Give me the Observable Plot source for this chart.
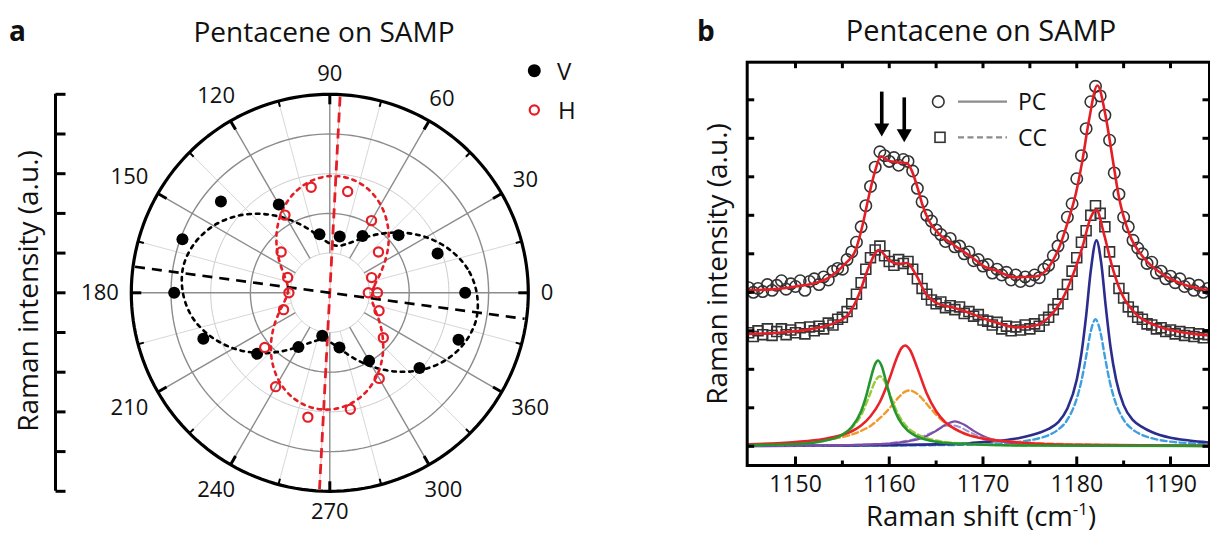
<!DOCTYPE html>
<html>
<head>
<meta charset="utf-8">
<script src="https://cdn.jsdelivr.net/npm/d3@7"></script>
<script src="https://cdn.jsdelivr.net/npm/@observablehq/plot@0.6"></script>
<style>
  html, body { margin: 0; padding: 0; background: #fff; }
  #fig { position: relative; width: 1210px; height: 534px; overflow: hidden; background: #fff; font-family: "Open Sans", sans-serif; }
  #fig > svg { position: absolute; top: 0; }
</style>
</head>
<body>
<div id="fig"></div>
<script>
// ================= DATA : panel a (polar) =================
const polarAngles = [0, 20, 40, 60, 80, 100, 120, 140, 160, 180, 200, 220, 240, 260, 280, 300, 320, 340];
const vIntensity  = [3.41, 2.89, 2.26, 1.65, 1.44, 1.50, 2.57, 3.58, 3.95, 3.92, 3.39, 2.39, 1.58, 1.10, 1.40, 1.98, 2.95, 3.45];
const hAngles     = [0, 20, 40, 60, 80, 100, 120, 140, 160, 180, 200, 220, 240, 260, 280, 300, 320, 340, 360];
const hIntensity  = [0.97, 1.12, 1.60, 2.10, 2.59, 2.70, 2.26, 1.60, 1.13, 1.03, 1.24, 2.14, 2.73, 3.18, 2.98, 2.49, 1.76, 1.32, 1.20];
const fitAngles   = [0, 10, 20, 30, 40, 50, 60, 70, 80, 90, 100, 110, 120, 130, 140, 150, 160, 170,
                     180, 190, 200, 210, 220, 230, 240, 250, 260, 270, 280, 290, 300, 310, 320, 330, 340, 350];
const vFit = [3.70, 3.52, 3.20, 2.80, 2.36, 1.93, 1.57, 1.32, 1.20, 1.24, 1.43, 1.75, 2.15, 2.59, 3.02, 3.38, 3.63, 3.75,
              3.70, 3.52, 3.20, 2.80, 2.36, 1.93, 1.57, 1.32, 1.20, 1.24, 1.43, 1.75, 2.15, 2.59, 3.02, 3.38, 3.63, 3.75];
const hFit = [1.06, 1.15, 1.34, 1.61, 1.93, 2.26, 2.56, 2.79, 2.92, 2.94, 2.85, 2.66, 2.39, 2.07, 1.74, 1.44, 1.21, 1.08,
              1.06, 1.15, 1.34, 1.61, 1.93, 2.26, 2.56, 2.79, 2.92, 2.94, 2.85, 2.66, 2.39, 2.07, 1.74, 1.44, 1.21, 1.08];
const vAxisAngle = 172.4;
const hAxisAngle = 87;
const axisLineLength = 4.95;
const angleTicks = [0, 30, 60, 90, 120, 150, 180, 210, 240, 270, 300, 330];
const angleTickLabels = ["0", "30", "60", "90", "120", "150", "180", "210", "240", "270", "300", "360"];
const ringRadii = [1, 2, 3, 4, 5];
const radialTicks = [-5, -4, -3, -2, -1, 0, 1, 2, 3, 4, 5];

// ================= DATA : panel b (spectra) =================
const specShift = [1145,1145.5,1146,1146.5,1147,1147.5,1148,1148.5,1149,1149.5,
  1150,1150.5,1151,1151.5,1152,1152.5,1153,1153.5,1154,1154.5,
  1155,1155.5,1156,1156.5,1157,1157.5,1158,1158.5,1159,1159.5,
  1160,1160.5,1161,1161.5,1162,1162.5,1163,1163.5,1164,1164.5,
  1165,1165.5,1166,1166.5,1167,1167.5,1168,1168.5,1169,1169.5,
  1170,1170.5,1171,1171.5,1172,1172.5,1173,1173.5,1174,1174.5,
  1175,1175.5,1176,1176.5,1177,1177.5,1178,1178.5,1179,1179.5,
  1180,1180.5,1181,1181.5,1182,1182.5,1183,1183.5,1184,1184.5,
  1185,1185.5,1186,1186.5,1187,1187.5,1188,1188.5,1189,1189.5,
  1190,1190.5,1191,1191.5,1192,1192.5,1193,1193.5,1194];
const pcIntensity = [4.12,4.00,4.10,4.02,4.20,4.05,4.18,4.30,4.08,4.22,
  4.15,4.30,4.05,4.28,4.35,4.20,4.40,4.32,4.55,4.62,
  4.60,4.85,5.05,5.30,5.70,6.25,6.75,7.25,7.65,7.55,
  7.40,7.50,7.30,7.45,7.40,7.15,6.70,6.35,6.00,5.85,
  5.62,5.50,5.32,5.40,5.18,5.20,5.00,5.05,4.82,4.85,
  4.68,4.72,4.50,4.60,4.45,4.52,4.32,4.45,4.28,4.40,
  4.30,4.45,4.38,4.60,4.70,4.95,5.20,5.45,5.95,6.30,
  6.95,7.55,8.25,8.95,9.35,9.10,8.60,7.95,7.10,6.55,
  5.95,5.70,5.35,5.15,5.00,4.75,4.78,4.50,4.55,4.35,
  4.42,4.25,4.35,4.15,4.22,4.05,4.18,4.00,4.10];
const ccIntensity = [2.95,2.85,3.00,2.90,3.05,2.88,2.98,3.05,2.90,3.02,
  2.95,3.08,2.92,3.10,3.00,3.12,3.05,3.20,3.15,3.30,
  3.35,3.50,3.70,3.95,4.25,4.60,4.90,5.10,5.20,4.95,
  4.80,4.70,4.85,4.75,4.80,4.60,4.35,4.10,3.95,3.80,
  3.70,3.75,3.60,3.65,3.55,3.62,3.45,3.50,3.38,3.42,
  3.28,3.25,3.15,3.22,3.05,3.12,3.00,3.10,3.02,3.15,
  3.05,3.18,3.12,3.28,3.35,3.55,3.70,3.95,4.20,4.55,
  4.90,5.30,5.60,6.00,6.25,6.05,5.70,5.05,4.55,4.10,
  3.85,3.62,3.50,3.35,3.30,3.18,3.15,3.05,3.08,2.98,
  3.02,2.92,2.98,2.88,2.95,2.85,2.92,2.82,2.90];
const pcFit = [[1144.85,4.05],[1148.2,4.09],[1150,4.15],[1151.8,4.22],[1153.6,4.39],[1155.3,4.74],[1156.4,5.09],
  [1157.1,5.69],[1157.8,6.47],[1158.5,7.16],[1159.1,7.53],[1160,7.41],[1161,7.38],[1161.9,7.35],[1162.4,7.16],
  [1163,6.73],[1163.5,6.30],[1164.2,5.87],[1165.3,5.52],[1166.7,5.26],[1168.8,4.91],[1170.3,4.65],[1171.3,4.57],
  [1173.5,4.39],[1175.6,4.41],[1177,4.65],[1178,5.09],[1179.1,5.87],[1179.9,6.56],[1180.6,7.42],[1181.3,8.46],
  [1182.2,9.37],[1183.1,8.55],[1183.8,7.51],[1184.5,6.47],[1185.6,5.52],[1187.1,4.91],[1189.1,4.48],[1191.2,4.22],[1194.16,4.05]];
const ccFit = [[1144.85,2.92],[1148.2,2.95],[1151.8,3.05],[1154.3,3.22],[1155.7,3.44],[1156.8,3.96],[1157.8,4.65],
  [1158.9,5.10],[1160,4.83],[1161,4.74],[1161.9,4.76],[1162.8,4.48],[1163.9,3.96],[1164.9,3.74],[1166.7,3.61],
  [1168.8,3.44],[1170.3,3.30],[1171.3,3.22],[1173.5,3.09],[1175.6,3.14],[1177,3.35],[1178.4,3.79],[1179.5,4.39],
  [1180.6,5.17],[1181.5,5.95],[1182.1,6.14],[1182.9,5.52],[1183.8,4.65],[1184.8,3.96],[1186.3,3.44],[1188.4,3.14],
  [1191.2,2.96],[1194.16,2.88]];
const greenSolid = [[1145,0.03],[1150,0.06],[1153,0.14],[1155,0.30],[1156,0.50],[1157,0.91],[1157.5,1.27],[1158,1.74],
  [1158.5,2.14],[1158.8,2.23],[1159.2,2.08],[1159.7,1.64],[1160.3,1.12],[1161,0.71],[1162,0.40],[1163,0.25],
  [1165,0.12],[1168,0.06],[1175,0.02],[1194.1,0.01]];
const greenDashed = [[1145,0.03],[1150,0.07],[1153,0.15],[1155,0.31],[1156,0.48],[1157,0.81],[1158,1.39],[1158.5,1.69],
  [1159,1.82],[1159.5,1.69],[1160,1.39],[1161,0.81],[1162,0.48],[1163,0.31],[1165,0.15],[1168,0.07],[1175,0.02],[1194.1,0.01]];
const redSolid = [[1145,0.05],[1150,0.11],[1153,0.19],[1155,0.30],[1156,0.39],[1157,0.54],[1158,0.78],[1159,1.15],
  [1160,1.74],[1160.7,2.23],[1161.3,2.55],[1161.7,2.62],[1162.2,2.51],[1163,2.03],[1164,1.37],[1165,0.91],[1166,0.62],
  [1167,0.45],[1168,0.33],[1170,0.20],[1172,0.14],[1175,0.08],[1180,0.04],[1194.1,0.01]];
const orangeDashed = [[1145,0.05],[1150,0.09],[1153,0.16],[1155,0.24],[1157,0.40],[1158,0.53],[1159,0.73],[1160,0.98],
  [1161,1.27],[1161.7,1.42],[1162.2,1.45],[1163,1.36],[1164,1.10],[1165,0.82],[1166,0.60],[1167,0.45],[1168,0.34],
  [1170,0.21],[1172,0.14],[1175,0.09],[1180,0.05],[1194.1,0.01]];
const purpleSolid = [[1145,0.01],[1155,0.03],[1158,0.05],[1160,0.07],[1162,0.13],[1163,0.18],[1164,0.27],[1165,0.40],
  [1166,0.56],[1167,0.65],[1168,0.56],[1169,0.40],[1170,0.27],[1171,0.18],[1172,0.13],[1174,0.07],[1176,0.05],[1180,0.02],[1194.1,0.01]];
const lavenderDashed = [[1145,0.01],[1155,0.03],[1158,0.05],[1160,0.08],[1162,0.15],[1163,0.21],[1164,0.30],[1165,0.41],
  [1166,0.53],[1166.6,0.55],[1167.5,0.50],[1168.5,0.38],[1170,0.22],[1172,0.12],[1174,0.07],[1176,0.05],[1180,0.02],[1194.1,0.01]];
const navySolid = [[1145,0.01],[1155,0.02],[1160,0.03],[1165,0.05],[1168,0.07],[1170,0.11],[1172,0.15],[1174,0.22],
  [1176,0.35],[1177,0.45],[1178,0.62],[1179,0.98],[1180,1.73],[1180.5,2.41],[1181,3.39],[1181.5,4.57],[1182.1,5.35],
  [1182.6,4.78],[1183.1,3.62],[1183.6,2.58],[1184.2,1.73],[1185,1.07],[1186,0.68],[1187,0.50],[1188,0.37],[1190,0.22],
  [1192,0.15],[1194.1,0.10]];
const lightBlueDashed = [[1145,0.01],[1160,0.02],[1165,0.03],[1170,0.05],[1172,0.08],[1174,0.12],[1176,0.21],[1177,0.29],
  [1178,0.43],[1179,0.69],[1180,1.24],[1180.5,1.70],[1181,2.33],[1181.5,2.99],[1182,3.30],[1182.5,2.99],[1183,2.33],
  [1183.5,1.70],[1184,1.24],[1185,0.69],[1186,0.43],[1187,0.29],[1188,0.21],[1190,0.12],[1192,0.08],[1194.1,0.05]];
const arrowShift = [1159.2, 1161.6];
const arrowTop = [9.2, 9.05];
const arrowTip = [8.05, 7.9];
const xMajorTicks = [1150, 1160, 1170, 1180, 1190];
const xMinorTicks = [1155, 1165, 1175, 1185];
const xTopTicks = [1150, 1155, 1160, 1165, 1170, 1175, 1180, 1185, 1190];
const yTicks = [0, 1, 2, 3, 4, 5, 6, 7, 8, 9];

// ================= LAYOUT / STYLE =================
const RED = "#e41e26";
const FONT = "Open Sans, sans-serif";
const fig = document.getElementById("fig");

// ---------- panel a ----------
const U = 39.7, CX = 329.3, CY = 292.3, RMAX = 5;
const A_W = 620, A_H = 534;
const rad = d => d * Math.PI / 180;
const pol = (a, r) => ({x: r * Math.cos(rad(a)), y: r * Math.sin(rad(a))});

const vPts = polarAngles.map((a, i) => pol(a, vIntensity[i]));
const hPts = hAngles.map((a, i) => pol(a, hIntensity[i]));
const vFitPts = fitAngles.map((a, i) => pol(a, vFit[i]));
const hFitPts = fitAngles.map((a, i) => pol(a, hFit[i]));
const ringPts = ringRadii.flatMap(r => d3.range(0, 361, 2).map(a => ({ring: r, ...pol(a, r)})));
const spokeAngles = d3.range(0, 360, 15);
const AX = (55 - CX) / U; // left radial axis position (data units)

const labelFs = 22;
const labelPts = angleTicks.map((a, i) => {
  const w = angleTickLabels[i].length * 0.57 * labelFs;
  const rc = (211 + (w / 2) * Math.abs(Math.cos(rad(a))) + 8 * Math.abs(Math.sin(rad(a)))) / U;
  return {label: angleTickLabels[i], ...pol(a, rc)};
});

const plotA = Plot.plot({
  width: A_W, height: A_H,
  marginLeft: CX - RMAX * U, marginRight: A_W - (CX + RMAX * U),
  marginTop: CY - RMAX * U, marginBottom: A_H - (CY + RMAX * U),
  x: {domain: [-RMAX, RMAX], axis: null},
  y: {domain: [-RMAX, RMAX], axis: null},
  style: {fontFamily: FONT, background: "transparent", overflow: "visible"},
  marks: [
    Plot.line(ringPts.filter(d => d.ring % 2 === 1 && d.ring < 5), {x: "x", y: "y", z: "ring", stroke: "#cdcdcd", strokeWidth: 1}),
    Plot.link(spokeAngles.filter(a => a % 30 !== 0), {
      x1: a => pol(a, 1).x, y1: a => pol(a, 1).y, x2: a => pol(a, 5).x, y2: a => pol(a, 5).y,
      stroke: "#d2d2d2", strokeWidth: 0.9}),
    Plot.line(ringPts.filter(d => d.ring % 2 === 0), {x: "x", y: "y", z: "ring", stroke: "#8c8c8c", strokeWidth: 1.4}),
    Plot.link(spokeAngles.filter(a => a % 30 === 0), {
      x1: a => pol(a, 1).x, y1: a => pol(a, 1).y, x2: a => pol(a, 5).x, y2: a => pol(a, 5).y,
      stroke: "#8c8c8c", strokeWidth: 1.4}),
    Plot.line(ringPts.filter(d => d.ring === 5), {x: "x", y: "y", stroke: "black", strokeWidth: 3.2}),
    Plot.link(spokeAngles, {
      x1: a => pol(a, 5).x, y1: a => pol(a, 5).y,
      x2: a => pol(a, 5 - (a % 30 === 0 ? 10 : 6) / U).x, y2: a => pol(a, 5 - (a % 30 === 0 ? 10 : 6) / U).y,
      stroke: "black", strokeWidth: a => a % 30 === 0 ? 3 : 2}),
    // left radial axis
    Plot.ruleX([AX], {x: d => d, y1: () => -5, y2: () => 5, stroke: "black", strokeWidth: 3}),
    Plot.link(radialTicks, {x1: () => AX, x2: () => AX + 10 / U, y1: d => d, y2: d => d, stroke: "black", strokeWidth: 3}),
    // fits
    Plot.line(vFitPts, {x: "x", y: "y", curve: "catmull-rom-closed", stroke: "black", strokeWidth: 2.6, strokeDasharray: "3.5,5"}),
    Plot.line(hFitPts, {x: "x", y: "y", curve: "catmull-rom-closed", stroke: RED, strokeWidth: 2.6, strokeDasharray: "3.5,5"}),
    // principal axes
    Plot.link([hAxisAngle], {x1: a => pol(a, axisLineLength).x, y1: a => pol(a, axisLineLength).y,
      x2: a => pol(a + 180, axisLineLength).x, y2: a => pol(a + 180, axisLineLength).y, stroke: "#f4a3a6", strokeWidth: 0.9}),
    Plot.link([hAxisAngle], {x1: a => pol(a, axisLineLength).x, y1: a => pol(a, axisLineLength).y,
      x2: a => pol(a + 180, axisLineLength).x, y2: a => pol(a + 180, axisLineLength).y, stroke: RED, strokeWidth: 2.8, strokeDasharray: "10,6"}),
    Plot.link([vAxisAngle], {x1: a => pol(a, axisLineLength).x, y1: a => pol(a, axisLineLength).y,
      x2: a => pol(a + 180, axisLineLength).x, y2: a => pol(a + 180, axisLineLength).y, stroke: "black", strokeWidth: 2.6, strokeDasharray: "10,7"}),
    // data
    Plot.dot(vPts, {x: "x", y: "y", r: 6, fill: "black"}),
    Plot.dot(hPts, {x: "x", y: "y", r: 4.6, stroke: RED, strokeWidth: 2.2, fill: "none"}),
    // angle labels
    Plot.text(labelPts, {x: "x", y: "y", text: "label", fontSize: labelFs, fill: "#111", textAnchor: "middle", lineAnchor: "middle"})
  ]
});
plotA.style.left = "0px";
fig.appendChild(plotA);

// ---------- panel b ----------
const B_LEFT = 620, B_W = 590, B_H = 534;
const frameL = 746.7, frameR = 1209, frameT = 61.7, frameB = 465;
const pxPerX = 9.375, pxPerY = 38.5;
const xMin = 1150 - (795 - frameL) / pxPerX, xMax = 1190 + (frameR - 1170) / pxPerX;
const yMin = -(frameB - 445.8) / pxPerY, yMax = (445.8 - frameT) / pxPerY;

const pcPts = specShift.map((x, i) => ({x, y: pcIntensity[i]}));
const ccPts = specShift.map((x, i) => ({x, y: ccIntensity[i]}));
const arrows = arrowShift.map((x, i) => ({x, top: arrowTop[i], tip: arrowTip[i]}));
const comp = (data, stroke, dashed, w) => Plot.line(data, {x: d => d[0], y: d => d[1], curve: "monotone-x", stroke,
  strokeWidth: w, strokeDasharray: dashed ? "6,3.5" : null, clip: true});

const plotB = Plot.plot({
  width: B_W, height: B_H,
  marginLeft: frameL - B_LEFT, marginRight: B_W - (frameR - B_LEFT), marginTop: frameT, marginBottom: B_H - frameB,
  x: {domain: [xMin, xMax], axis: null},
  y: {domain: [yMin, yMax], axis: null},
  style: {fontFamily: FONT, background: "transparent", overflow: "visible"},
  marks: [
    comp(lightBlueDashed, "#3d9fe0", true, 2.4),
    comp(navySolid, "#2a2d8c", false, 2.6),
    comp(lavenderDashed, "#9d95d6", true, 2),
    comp(purpleSolid, "#7a4ea6", false, 2.2),
    comp(orangeDashed, "#f09a2a", true, 2.4),
    comp(greenDashed, "#9cc83c", true, 2.4),
    comp(redSolid, "#e8242a", false, 2.6),
    comp(greenSolid, "#25962f", false, 2.6),
    Plot.dot(pcPts, {x: "x", y: "y", r: 5.7, stroke: "#333", strokeWidth: 1.6, fill: "none", clip: true}),
    Plot.dot(ccPts, {x: "x", y: "y", symbol: "square", r: 5.6, stroke: "#333", strokeWidth: 1.6, fill: "none", clip: true}),
    Plot.line(pcFit, {x: d => d[0], y: d => d[1], curve: "monotone-x", stroke: RED, strokeWidth: 2.6, clip: true}),
    Plot.line(ccFit, {x: d => d[0], y: d => d[1], curve: "monotone-x", stroke: RED, strokeWidth: 2.6, clip: true}),
    Plot.frame({stroke: "black", strokeWidth: 3}),
    // ticks
    Plot.link(xMajorTicks, {x1: d => d, x2: d => d, y1: () => yMin, y2: () => yMin + 9 / pxPerY, stroke: "black", strokeWidth: 3}),
    Plot.link(xMinorTicks, {x1: d => d, x2: d => d, y1: () => yMin, y2: () => yMin + 5 / pxPerY, stroke: "black", strokeWidth: 3}),
    Plot.link(xTopTicks, {x1: d => d, x2: d => d, y1: () => yMax, y2: () => yMax - 6 / pxPerY, stroke: "black", strokeWidth: 3}),
    Plot.link(yTicks, {x1: () => xMin, x2: () => xMin + 7 / pxPerX, y1: d => d, y2: d => d, stroke: "black", strokeWidth: 3}),
    Plot.link(yTicks, {x1: () => xMax, x2: () => xMax - 7 / pxPerX, y1: d => d, y2: d => d, stroke: "black", strokeWidth: 3}),
    Plot.text(xMajorTicks, {x: d => d, frameAnchor: "bottom", dy: 19, text: d => String(d), fontSize: 23, fill: "#111", lineAnchor: "middle"}),
    // arrows
    Plot.ruleX(arrows, {x: "x", y1: "top", y2: "tip", stroke: "black", strokeWidth: 3.6, insetBottom: 10}),
    Plot.dot(arrows, {x: "x", y: "tip", dy: -8.5, symbol: "triangle", rotate: 180, r: 5.6, fill: "black"})
  ]
});
plotB.style.left = B_LEFT + "px";
fig.appendChild(plotB);

// ---------- overlay: titles, axis titles, legends ----------
const ns = "http://www.w3.org/2000/svg";
const over = document.createElementNS(ns, "svg");
over.setAttribute("width", 1210); over.setAttribute("height", 534);
over.style.left = "0px";
over.style.fontFamily = FONT;
over.innerHTML = `
  <g fill="#111">
    <text x="9" y="40.5" font-size="28" font-weight="700">a</text>
    <text x="324" y="41.5" font-size="28" text-anchor="middle">Pentacene on SAMP</text>
    <text x="697" y="40.5" font-size="28" font-weight="700">b</text>
    <text x="981" y="41" font-size="29" text-anchor="middle">Pentacene on SAMP</text>
    <text transform="translate(38,291) rotate(-90)" font-size="28" text-anchor="middle">Raman intensity (a.u.)</text>
    <text transform="translate(727,264) rotate(-90)" font-size="28" text-anchor="middle">Raman intensity (a.u.)</text>
    <text x="981" y="526" font-size="27.5" text-anchor="middle">Raman shift (cm<tspan dy="-11" font-size="17">-1</tspan><tspan dy="11">)</tspan></text>
  </g>
  <circle cx="534.3" cy="70.7" r="6.5" fill="black"></circle>
  <text x="557" y="79.5" font-size="24" fill="#111">V</text>
  <circle cx="534.3" cy="110" r="4.6" fill="none" stroke="${RED}" stroke-width="2.2"></circle>
  <text x="558" y="118.8" font-size="24" fill="#111">H</text>
  <circle cx="938.3" cy="101.7" r="5.8" fill="none" stroke="#333" stroke-width="1.6"></circle>
  <line x1="958" x2="1007" y1="101.7" y2="101.7" stroke="#8c8c8c" stroke-width="2.2"></line>
  <text x="1018" y="110" font-size="23" fill="#111">PC</text>
  <rect x="935" y="132.3" width="10" height="10" fill="none" stroke="#333" stroke-width="1.6"></rect>
  <line x1="958" x2="1007" y1="137.3" y2="137.3" stroke="#8c8c8c" stroke-width="2.2" stroke-dasharray="6,3.5"></line>
  <text x="1018" y="145.5" font-size="23" fill="#111">CC</text>
`;
fig.appendChild(over);
</script>
</body>
</html>
